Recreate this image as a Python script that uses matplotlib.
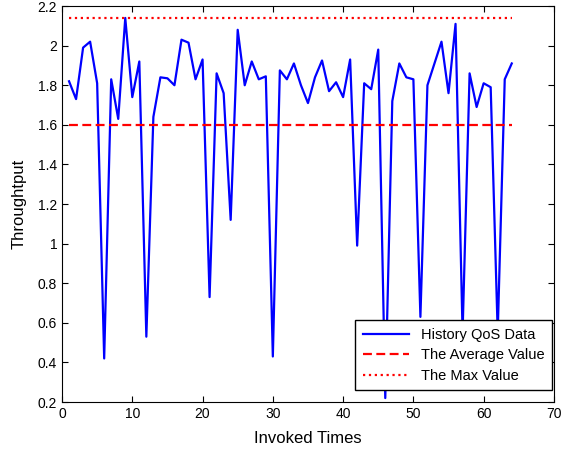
import numpy as np
import matplotlib
matplotlib.use("Agg")
import matplotlib.pyplot as plt

plt.rcParams['font.family'] = ['Liberation Sans', 'DejaVu Sans']

# invoked times and throughput history
invoked = list(range(1, 65))
throughput = [
    1.82, 1.73, 1.99, 2.02, 1.81, 0.42, 1.83, 1.63, 2.14, 1.74,
    1.92, 0.53, 1.64, 1.84, 1.835, 1.80, 2.03, 2.015, 1.83, 1.93,
    0.73, 1.86, 1.76, 1.12, 2.08, 1.80, 1.92, 1.83, 1.845, 0.43,
    1.875, 1.83, 1.91, 1.80, 1.71, 1.84, 1.925, 1.77, 1.815, 1.74,
    1.93, 0.99, 1.81, 1.78, 1.98, 0.22, 1.72, 1.91, 1.84, 1.83,
    0.63, 1.80, 1.91, 2.02, 1.76, 2.11, 0.55, 1.86, 1.69, 1.81,
    1.79, 0.55, 1.83, 1.91,
]
avg_value = 1.6
max_value = 2.14

fig = plt.figure(figsize=(5.7, 4.51), dpi=100)
ax = fig.add_axes([0.1088, 0.1086, 0.863, 0.878])

ax.plot(invoked, throughput, color='blue', lw=1.6, label='History QoS Data')
ax.plot(invoked, [avg_value] * len(invoked), color='red', ls='--', lw=1.6,
        dashes=(4, 2), label='The Average Value')
ax.plot(invoked, [max_value] * len(invoked), color='red', ls=':', lw=1.6,
        label='The Max Value')

ax.set_xlim(0, 70)
ax.set_ylim(0.2, 2.2)
ax.set_xticks(range(0, 71, 10))
ax.set_yticks(np.arange(0.2, 2.21, 0.2))
ax.set_yticklabels(['0.2', '0.4', '0.6', '0.8', '1', '1.2', '1.4', '1.6', '1.8', '2', '2.2'])
ax.tick_params(direction='in', top=True, right=True, labelsize=10, length=4)
ax.set_xlabel('Invoked Times', fontsize=12, labelpad=7)
ax.set_ylabel('Throughtput', fontsize=12, labelpad=8)

leg = ax.legend(loc='lower right', bbox_to_anchor=(0.996, 0.03), borderaxespad=0,
                fontsize=10.5, fancybox=False, framealpha=1, edgecolor='black',
                handlelength=3.2, borderpad=0.5, labelspacing=0.45)
leg.get_frame().set_linewidth(1.0)

fig.savefig('out.png', dpi=100)
